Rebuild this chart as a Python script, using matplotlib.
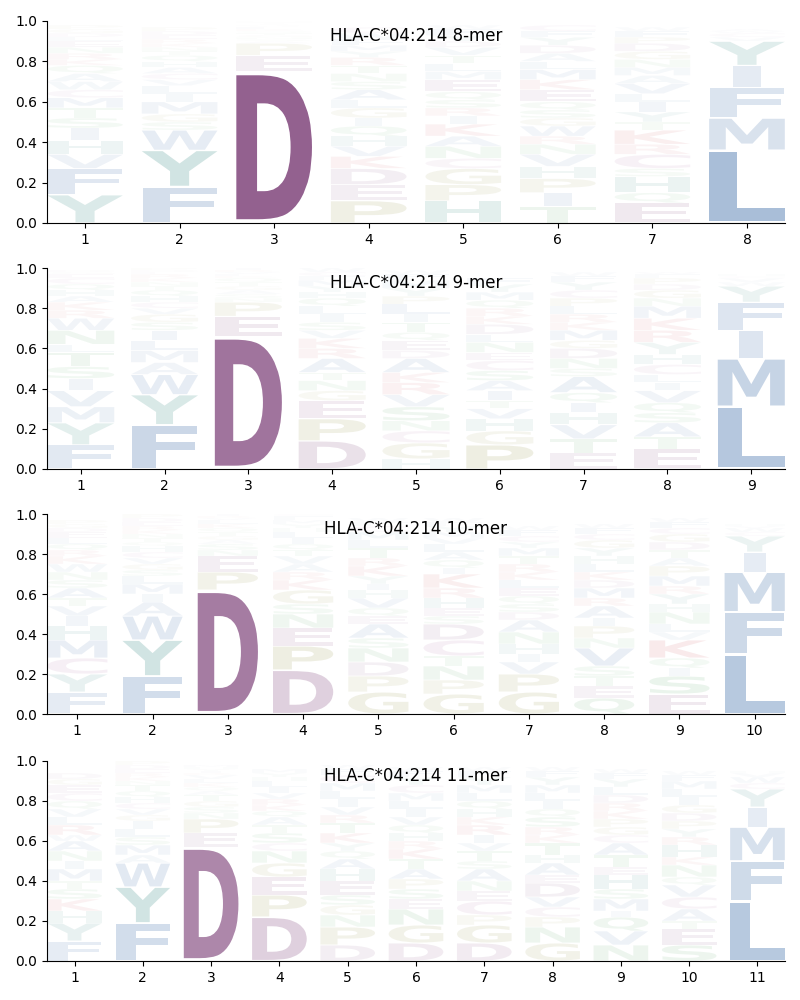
import matplotlib
matplotlib.use("Agg")
import matplotlib.pyplot as plt
from matplotlib.textpath import TextPath
from matplotlib.patches import PathPatch
from matplotlib.font_manager import FontProperties
from matplotlib.transforms import Affine2D

allele = "HLA-C*04:214"

# letters of each position, bottom -> top, with their heights (probabilities)
letters_8 = ["YFVHISTMCWAQKRNELDGP", "FYWSGMILVCAHQTNKREDP", "DEPASNGTQKLVRIYHM",
             "PEDKVHQIGLASNTRYMFWC", "HPGCNAKIRSQEMLTVDYFW", "TIPHVNRWGSQEKMLADYFC",
             "EQHSCRKTYILVAMNGDPFW", "LMFIYVCWA"]
heights_8 = [[.14, .13, .07, .07, .06, .05, .05, .05, .04, .04, .04, .04, .03, .03, .03, .03, .02, .02, .02, .02],
             [.18, .18, .10, .04, .04, .06, .04, .04, .03, .03, .03, .03, .03, .02, .02, .02, .02, .02, .02, .02],
             [.75, .08, .06, .01, .01, .01, .01, .01, .01, .01, .01, .005, .005, .005, .005, .005, .005],
             [.11, .08, .08, .06, .05, .05, .05, .04, .05, .04, .05, .04, .04, .04, .04, .03, .03, .03, .03, .03],
             [.11, .08, .08, .05, .06, .05, .06, .04, .04, .04, .04, .06, .04, .04, .04, .04, .03, .03, .03, .02],
             [.08, .07, .07, .06, .06, .05, .04, .05, .04, .04, .04, .06, .05, .05, .04, .04, .04, .04, .03, .03],
             [.10, .05, .08, .04, .07, .05, .07, .04, .05, .05, .04, .05, .04, .04, .04, .04, .04, .03, .03, .02],
             [.36, .16, .15, .11, .12, .02, .02, .01, .01]]

letters_9 = ["FYMVISTLNWRKAHQCEGD", "FYWAMLISGVCHQTNKREDP", "DEPNSAGTQKLVRIH",
             "DPEGNTARKVSILQHYMFCW", "HGCNSVRKADEQTILPYMFW", "PGHVTIASCENLDKRQMYF",
             "ETVHIQASNDGMKRLPCYFW", "ETASQVILCHYRKMNGDPFW", "LMIFYWVCH"]
heights_9 = [[.12, .11, .08, .08, .06, .06, .07, .04, .07, .06, .04, .04, .03, .03, .03, .03, .02, .01, .01],
             [.22, .15, .10, .06, .06, .05, .05, .04, .04, .03, .03, .03, .03, .02, .02, .02, .02, .01, .01, .01],
             [.66, .10, .07, .02, .02, .02, .02, .02, .02, .01, .01, .01, .01, .01, .01],
             [.14, .11, .09, .05, .05, .04, .07, .05, .05, .04, .04, .04, .04, .04, .03, .03, .03, .02, .02, .02],
             [.05, .08, .06, .05, .07, .06, .06, .05, .07, .04, .05, .04, .05, .04, .05, .04, .04, .04, .03, .02],
             [.12, .07, .06, .05, .04, .05, .05, .05, .05, .04, .05, .04, .05, .04, .04, .04, .04, .04, .03],
             [.08, .07, .07, .06, .05, .05, .08, .04, .05, .05, .04, .05, .04, .04, .04, .04, .04, .04, .03, .02],
             [.10, .06, .07, .05, .05, .06, .04, .04, .05, .05, .06, .06, .06, .06, .04, .04, .03, .03, .02, .01],
             [.31, .24, .14, .14, .08, .02, .02, .01, .01]]

letters_10 = ["FYCMHIVTASNWKRQLEDGP", "FYWAIMLSGVCHQTNKREDP", "DPENSAGTQKLVRIY",
              "DPENSGKRAVTQILHYMFC", "GPDNSAEQVHIYKRTLMCFW", "GPNTCDSEHRKIQALVMYFW",
              "GPVIHNADSQELKRTMYCFW", "QETSVNPIARMDKLHYGCFW", "ESIQKVLNHYRMPATDGCFW", "LFMIYCWVH"]
heights_10 = [[.11, .09, .08, .09, .07, .05, .05, .04, .05, .04, .04, .04, .04, .03, .03, .03, .03, .02, .02, .02],
              [.19, .18, .12, .07, .04, .05, .04, .03, .03, .03, .03, .03, .02, .02, .02, .02, .02, .02, .02, .02],
              [.62, .09, .08, .03, .03, .02, .02, .02, .02, .02, .02, .01, .01, .01, .01],
              [.22, .12, .09, .07, .05, .07, .05, .04, .04, .04, .03, .03, .03, .03, .02, .02, .02, .02, .01],
              [.11, .08, .07, .07, .05, .07, .04, .04, .05, .04, .03, .04, .05, .04, .05, .04, .04, .03, .02, .02],
              [.10, .07, .07, .05, .08, .08, .04, .04, .05, .05, .07, .03, .04, .04, .04, .03, .03, .03, .02, .02],
              [.11, .09, .06, .04, .05, .06, .06, .04, .04, .04, .04, .04, .04, .04, .04, .04, .03, .03, .03, .02],
              [.08, .06, .05, .05, .09, .05, .06, .04, .06, .04, .05, .04, .04, .04, .04, .04, .04, .03, .03, .02],
              [.10, .09, .04, .05, .09, .04, .04, .06, .04, .05, .04, .05, .05, .04, .04, .04, .04, .03, .03, .02],
              [.30, .21, .20, .10, .08, .02, .02, .01, .01]]

letters_11 = ["FYHKSTMINAWRLVQCEGD", "FYWAMSLIGVCHQTNKREDP", "DEPNSGTAQKLVRIYHM",
              "DPEGNCSTAQKRVILHYM", "DPNGSEHAQYKTRVILMCFW", "DGNESPATKRHQVILMCYFW",
              "DGPCENASTVIRKHQLMYFW", "GNPCVDEAHTKRSQILMYFW", "NVQIMSHETACGPKRDLYFW",
              "SETACVQNKHRYPDGILMFW", "LFMIYCWVH"]
heights_11 = [[.10, .09, .06, .06, .05, .04, .06, .04, .05, .05, .03, .05, .04, .04, .04, .04, .04, .03, .03],
              [.19, .18, .12, .04, .05, .04, .04, .04, .03, .03, .03, .03, .03, .03, .02, .02, .02, .02, .02, .02],
              [.57, .07, .07, .03, .03, .03, .03, .02, .02, .02, .02, .02, .01, .01, .01, .01, .01],
              [.22, .11, .09, .07, .06, .04, .05, .04, .04, .03, .03, .03, .03, .03, .03, .02, .02, .02],
              [.08, .09, .06, .05, .05, .07, .06, .05, .04, .04, .05, .05, .04, .04, .04, .04, .04, .04, .03, .02],
              [.09, .09, .08, .05, .05, .05, .05, .05, .05, .04, .04, .04, .04, .04, .04, .04, .04, .04, .03, .02],
              [.09, .09, .05, .07, .05, .05, .06, .04, .05, .04, .04, .05, .04, .04, .04, .04, .04, .04, .03, .02],
              [.09, .08, .05, .05, .05, .07, .04, .06, .04, .06, .04, .04, .05, .04, .04, .04, .04, .04, .03, .02],
              [.08, .07, .07, .03, .06, .05, .07, .04, .06, .06, .04, .04, .04, .04, .04, .04, .04, .04, .03, .02],
              [.08, .08, .04, .06, .06, .06, .04, .06, .04, .06, .04, .04, .04, .04, .04, .04, .04, .04, .03, .02],
              [.30, .20, .17, .10, .09, .03, .03, .02, .01]]

# colour groups
colors = {}
for aa in "DE":
    colors[aa] = (111/255, 44/255, 106/255)
colors["C"] = (150/255, 60/255, 130/255)
for aa in "AVLIMFW":
    colors[aa] = (19/255, 77/255, 149/255)
for aa in "YH":
    colors[aa] = (0/255, 110/255, 100/255)
for aa in "PG":
    colors[aa] = (120/255, 120/255, 20/255)
for aa in "NSTQ":
    colors[aa] = (30/255, 140/255, 50/255)
for aa in "KR":
    colors[aa] = (190/255, 30/255, 40/255)

fp = FontProperties(family="DejaVu Sans", weight="bold")
width = 0.8
vpad = 0.05
# narrow letters (I) are not stretched wider than an E would be
ref_w = TextPath((0, 0), "E", size=1, prop=fp).get_extents().width


def draw_letter(ax, ch, x, y0, h):
    path = TextPath((0, 0), ch, size=1, prop=fp)
    bb = path.get_extents()
    gh = h * (1 - vpad)
    sx = width / max(bb.width, ref_w)
    gw = bb.width * sx
    tr = Affine2D().translate(-bb.x0, -bb.y0).scale(sx, gh / bb.height) \
        .translate(x - gw / 2, y0 + h * vpad / 2)
    patch = PathPatch(tr.transform_path(path), facecolor=colors[ch], edgecolor="none",
                      alpha=min(1.0, h))
    ax.add_patch(patch)


def draw_logo(ax, letters, heights, title):
    for i, (lets, hs) in enumerate(zip(letters, heights)):
        y = 0
        for ch, h in zip(lets, hs):
            draw_letter(ax, ch, i + 1, y, h)
            y += h
    n = len(letters)
    ax.set_xlim(1 - width / 2, n + width / 2)
    ax.set_ylim(0, 1)
    ax.set_xticks(range(1, n + 1))
    ax.set_yticks([0, 0.2, 0.4, 0.6, 0.8, 1.0])
    ax.spines["top"].set_visible(False)
    ax.spines["right"].set_visible(False)
    ax.text(0.5, 0.926, title, transform=ax.transAxes, ha="center", va="center", fontsize=12)


fig = plt.figure(figsize=(8, 10), dpi=100)
boxes = [[0.059, 0.777, 0.922, 0.202], [0.059, 0.531, 0.922, 0.201],
         [0.059, 0.286, 0.922, 0.200], [0.059, 0.039, 0.922, 0.200]]
panels = [(letters_8, heights_8, "8-mer"), (letters_9, heights_9, "9-mer"),
          (letters_10, heights_10, "10-mer"), (letters_11, heights_11, "11-mer")]

for box, (lets, hs, name) in zip(boxes, panels):
    ax = fig.add_axes(box)
    draw_logo(ax, lets, hs, allele + " " + name)

fig.savefig("out.png", dpi=100)
